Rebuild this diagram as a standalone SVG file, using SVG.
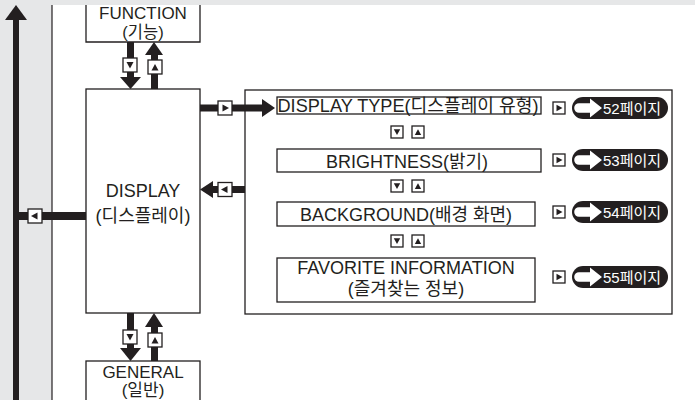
<svg xmlns="http://www.w3.org/2000/svg" width="695" height="400" viewBox="0 0 695 400">
<style>
.box{fill:#fff;stroke:#231f20;stroke-width:1.3}
.frame{fill:none;stroke:#231f20;stroke-width:1.3}
.t{font-family:"Liberation Sans","Noto Sans CJK KR",sans-serif;fill:#231f20;text-anchor:middle}
.t18{font-size:18px}
.t17{font-size:17px}
.pt{font-family:"Liberation Sans","Noto Sans CJK KR",sans-serif;font-size:15px;fill:#fff}
.ink{fill:#231f20}
.thin{stroke:#231f20;stroke-width:1.2;fill:none}
</style>
<defs>
<g id="icD"><rect class="box" x="0" y="0" width="14" height="14"/><polygon class="ink" points="3.5,4 10.5,4 7,10.5"/></g>
<g id="icU"><rect class="box" x="0" y="0" width="14" height="14"/><polygon class="ink" points="3.5,10.5 10.5,10.5 7,4"/></g>
<g id="icR"><rect class="box" x="0" y="0" width="14" height="14"/><polygon class="ink" points="4.5,3.5 4.5,10.5 11,7"/></g>
<g id="icL"><rect class="box" x="0" y="0" width="14" height="14"/><polygon class="ink" points="9.5,3.5 9.5,10.5 3,7"/></g>
<g id="sD"><rect class="box" x="0" y="0" width="12" height="12"/><polygon class="ink" points="2.8,3.2 9.2,3.2 6,9"/></g>
<g id="sU"><rect class="box" x="0" y="0" width="12" height="12"/><polygon class="ink" points="2.8,9 9.2,9 6,3.2"/></g>
<g id="sR"><rect class="box" x="0" y="0" width="12" height="12"/><polygon class="ink" points="3.5,2.8 3.5,9.2 9.5,6"/></g>
<g id="pillArrow"><path fill="#fff" d="M0,-4.8 H11 V-9.5 L23,0 L11,9.5 V4.8 H0 A4.8,4.8 0 0 1 0,-4.8 Z"/></g>
</defs>

<!-- background -->
<rect x="0" y="0" width="695" height="400" fill="#fff"/>
<rect x="0" y="0" width="52" height="400" fill="#e6e7e8"/>
<rect x="0" y="0" width="695" height="5" fill="#e6e7e8"/>
<line class="thin" x1="52" y1="5" x2="52" y2="400"/>

<g id="node-panel">
  <rect class="frame" x="245" y="90" width="427" height="224"/>
</g>

<g id="node-function">
  <path class="box" d="M86,5 V42 H200 V5"/>
  <text class="t t17" x="143" y="19">FUNCTION</text>
  <text class="t" x="143" y="37.5" font-size="16.5">(기능)</text>
</g>

<g id="node-display">
  <rect class="box" x="86" y="89" width="114" height="224"/>
  <text class="t t18" x="143" y="197">DISPLAY</text>
  <text class="t t18" x="143" y="222">(디스플레이)</text>
</g>

<g id="node-general">
  <rect class="box" x="86" y="361" width="114" height="50"/>
  <text class="t t17" x="143" y="378">GENERAL</text>
  <text class="t t17" x="143" y="396">(일반)</text>
</g>

<g id="node-display-type">
  <rect class="box" x="277" y="97" width="264" height="17"/>
  <text class="t" x="408" y="112" font-size="18" textLength="261" lengthAdjust="spacingAndGlyphs">DISPLAY TYPE(디스플레이 유형)</text>
</g>

<g id="node-brightness">
  <rect class="box" x="277" y="149" width="264" height="23"/>
  <text class="t t18" x="407" y="168">BRIGHTNESS(밝기)</text>
</g>

<g id="node-background">
  <rect class="box" x="277" y="202" width="258" height="24"/>
  <text class="t t18" x="406" y="221">BACKGROUND(배경 화면)</text>
</g>

<g id="node-favorite">
  <rect class="box" x="277" y="258" width="258" height="44"/>
  <text class="t t18" x="406" y="274">FAVORITE INFORMATION</text>
  <text class="t t18" x="406" y="295">(즐겨찾는 정보)</text>
</g>

<g id="node-page52">
  <rect class="ink" x="572" y="97" width="96" height="22" rx="11"/>
  <use href="#pillArrow" x="579" y="108"/>
  <text class="pt" x="603" y="113.5">52페이지</text>
</g>
<g id="node-page53">
  <rect class="ink" x="572" y="149" width="96" height="22" rx="11"/>
  <use href="#pillArrow" x="579" y="160"/>
  <text class="pt" x="603" y="165.5">53페이지</text>
</g>
<g id="node-page54">
  <rect class="ink" x="572" y="201" width="96" height="22" rx="11"/>
  <use href="#pillArrow" x="579" y="212"/>
  <text class="pt" x="603" y="217.5">54페이지</text>
</g>
<g id="node-page55">
  <rect class="ink" x="572" y="266" width="96" height="22" rx="11"/>
  <use href="#pillArrow" x="579" y="277"/>
  <text class="pt" x="603" y="282.5">55페이지</text>
</g>

<g id="connectors">
  <!-- left return arrow -->
  <rect class="ink" x="13" y="19" width="6" height="381"/>
  <polygon class="ink" points="5,20 16,5 27,20"/>
  <rect class="ink" x="19" y="212" width="67" height="8"/>
  <use href="#icL" x="28" y="209"/>
  <!-- FUNCTION -> DISPLAY -->
  <rect class="ink" x="127" y="42" width="7" height="36"/>
  <polygon class="ink" points="120,77 141,77 130.5,89"/>
  <use href="#icD" x="123" y="58"/>
  <!-- DISPLAY -> FUNCTION -->
  <rect class="ink" x="151" y="54" width="7" height="35"/>
  <polygon class="ink" points="145,55 163,55 154,42"/>
  <use href="#icU" x="148" y="60"/>
  <!-- DISPLAY -> GENERAL -->
  <rect class="ink" x="127" y="313" width="7" height="36"/>
  <polygon class="ink" points="120,348 141,348 130.5,361"/>
  <use href="#icD" x="123" y="330"/>
  <!-- GENERAL -> DISPLAY -->
  <rect class="ink" x="151" y="326" width="7" height="35"/>
  <polygon class="ink" points="145,327 163,327 154,313"/>
  <use href="#icU" x="148" y="333"/>
  <!-- DISPLAY -> DISPLAY TYPE -->
  <rect class="ink" x="200" y="104.5" width="63" height="7"/>
  <polygon class="ink" points="262,99 275,108 262,117"/>
  <use href="#icR" x="218" y="101"/>
  <!-- panel -> DISPLAY -->
  <rect class="ink" x="212" y="186" width="33" height="7"/>
  <polygon class="ink" points="213,181 200,189.5 213,198"/>
  <use href="#icL" x="218" y="182.5"/>
  <!-- panel vertical steps -->
  <use href="#sD" x="391" y="126"/>
  <use href="#sU" x="412" y="126"/>
  <use href="#sD" x="391" y="180"/>
  <use href="#sU" x="412" y="180"/>
  <use href="#sD" x="391" y="235"/>
  <use href="#sU" x="412" y="235"/>
  <!-- to page badges -->
  <use href="#sR" x="553" y="102"/>
  <use href="#sR" x="553" y="154"/>
  <use href="#sR" x="553" y="206"/>
  <use href="#sR" x="553" y="271"/>
</g>
</svg>
